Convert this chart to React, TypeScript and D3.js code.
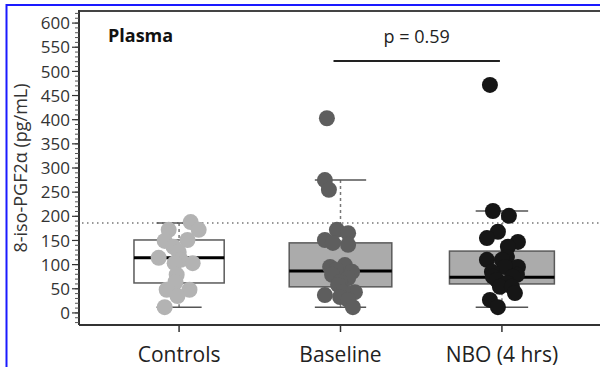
import React, { useEffect, useRef } from "react";
import * as d3 from "d3";

// groups on the x axis
const groups = ["Controls", "Baseline", "NBO (4 hrs)"];

// box plot summaries (pg/mL)
const q1 = [62, 54, 60];
const medians = [114, 87, 74];
const q3 = [151, 145, 128];
const whiskerLow = [12, 12, 12];
const whiskerHigh = [186, 275, 211];

// individual points per group; jitter is a unitless -1..1 spread
const controls = [188, 172, 172, 151, 149, 137, 126, 114, 110, 103, 103, 79, 64, 48, 48, 35, 12];
const controlsJitter = [0.58, 0.98, -0.52, 0.42, -0.72, -0.28, -0.02, -1.02, 0.08, 0.68, -0.22, -0.12, -0.18, -0.62, 0.52, -0.08, -0.72];

const baseline = [403, 275, 255, 172, 165, 151, 145, 141, 99, 95, 89, 85, 79, 72, 64, 58, 43, 43, 37, 33, 27, 12];
const baselineJitter = [-0.68, -0.78, -0.58, -0.18, 0.38, -0.78, -0.38, 0.38, 0.22, -0.52, -0.22, 0.58, -0.42, 0.38, -0.02, -0.12, 0.72, 0.12, -0.78, -0.02, 0.38, 0.62];

const nbo = [472, 211, 201, 168, 155, 147, 137, 116, 110, 110, 95, 95, 85, 79, 75, 75, 68, 62, 54, 54, 41, 27, 12];
const nboJitter = [-0.6, -0.45, 0.35, -0.2, -0.75, 0.8, 0.3, 0.25, -0.75, 0, 0.8, 0.15, -0.5, 0.75, 0.55, -0.45, -0.25, 0.25, -0.1, 0.5, 0.65, -0.6, -0.2];

const pointSets = [controls, baseline, nbo];
const jitterSets = [controlsJitter, baselineJitter, nboJitter];

const yTicks = [0, 50, 100, 150, 200, 250, 300, 350, 400, 450, 500, 550, 600];
const refLine = 186;
const pValue = "p = 0.59";

const pointColors = ["#b3b3b3", "#5e5e5e", "#161616"];
const boxFills = ["#ffffff", "#ababab", "#ababab"];

const App = () => {
  const svgRef = useRef(null);

  useEffect(() => {
    const svg = d3.select(svgRef.current);
    svg.selectAll("*").remove();

    const left = 79;
    const right = 600;
    const top = 11;
    const bottom = 325;
    const font = "'Open Sans', 'Noto Sans', sans-serif";

    const x = d3.scalePoint().domain(groups).range([left, 602]).padding(0.62);
    const y = d3.scaleLinear().domain([-25, 625]).range([bottom, top]);
    const step = x.step();

    const nMax = d3.max(pointSets, (s) => s.length);
    const boxW = pointSets.map((s) => 0.65 * step * Math.sqrt(s.length / nMax));
    const jit = d3.scaleLinear().domain([-1, 1]).range([-20, 20]);

    svg.append("rect").attr("width", 600).attr("height", 367).attr("fill", "#fff");

    // page frame (blue)
    svg.append("line").attr("x1", 6).attr("x2", 600).attr("y1", 5).attr("y2", 5)
      .attr("stroke", "#1a1aff").attr("stroke-width", 2);
    svg.append("line").attr("x1", 6.5).attr("x2", 6.5).attr("y1", 4).attr("y2", 367)
      .attr("stroke", "#1a1aff").attr("stroke-width", 2);

    // reference line
    svg.append("line")
      .attr("x1", left + 3).attr("x2", right)
      .attr("y1", y(refLine)).attr("y2", y(refLine))
      .attr("stroke", "#777").attr("stroke-width", 1.5)
      .attr("stroke-dasharray", "1.5,3.5");

    // boxes
    groups.forEach((g, i) => {
      const cx = x(g);
      const w = boxW[i];
      const b = svg.append("g");
      b.append("rect")
        .attr("x", cx - w / 2).attr("width", w)
        .attr("y", y(q3[i])).attr("height", y(q1[i]) - y(q3[i]))
        .attr("fill", boxFills[i]).attr("stroke", "#5a5a5a").attr("stroke-width", 1.5);
      b.append("line")
        .attr("x1", cx - w / 2).attr("x2", cx + w / 2)
        .attr("y1", y(medians[i])).attr("y2", y(medians[i]))
        .attr("stroke", "#000").attr("stroke-width", 3);
      // whiskers
      [[whiskerHigh[i], q3[i]], [whiskerLow[i], q1[i]]].forEach(([end, edge]) => {
        b.append("line")
          .attr("x1", cx).attr("x2", cx)
          .attr("y1", y(end)).attr("y2", y(edge))
          .attr("stroke", "#777").attr("stroke-width", 1.5)
          .attr("stroke-dasharray", "3,3");
        b.append("line")
          .attr("x1", cx - w / 4).attr("x2", cx + w / 4)
          .attr("y1", y(end)).attr("y2", y(end))
          .attr("stroke", "#555").attr("stroke-width", 1.5);
      });
    });

    // points
    groups.forEach((g, i) => {
      svg.append("g")
        .selectAll("circle")
        .data(pointSets[i].map((v, k) => ({ v, j: jitterSets[i][k] })))
        .enter()
        .append("circle")
        .attr("cx", (d) => x(g) + jit(d.j))
        .attr("cy", (d) => y(d.v))
        .attr("r", 8)
        .attr("fill", pointColors[i]);
    });

    // frame top
    svg.append("line").attr("x1", left).attr("x2", right).attr("y1", top).attr("y2", top)
      .attr("stroke", "#444").attr("stroke-width", 2);

    // y axis with minor ticks
    const yAxis = svg.append("g");
    yAxis.append("line").attr("x1", left).attr("x2", left).attr("y1", top - 1).attr("y2", bottom)
      .attr("stroke", "#333").attr("stroke-width", 2);
    yAxis.selectAll(".minor")
      .data(d3.range(-20, 621, 10))
      .enter().append("line")
      .attr("x1", left - 4).attr("x2", left)
      .attr("y1", (d) => y(d)).attr("y2", (d) => y(d))
      .attr("stroke", "#555").attr("stroke-width", 1);
    yAxis.selectAll(".major")
      .data(yTicks)
      .enter().append("line")
      .attr("x1", left - 7).attr("x2", left)
      .attr("y1", (d) => y(d)).attr("y2", (d) => y(d))
      .attr("stroke", "#333").attr("stroke-width", 1.2);
    yAxis.selectAll("text")
      .data(yTicks)
      .enter().append("text")
      .attr("x", left - 9).attr("y", (d) => y(d))
      .attr("dy", "0.36em")
      .attr("text-anchor", "end")
      .style("font-family", font).style("font-size", "17px").style("fill", "#333")
      .text((d) => d);

    svg.append("text")
      .attr("transform", `translate(27, 168) rotate(-90)`)
      .attr("text-anchor", "middle")
      .style("font-family", font).style("font-size", "18px").style("fill", "#333")
      .text("8-iso-PGF2α (pg/mL)");

    // x axis
    svg.append("line").attr("x1", left).attr("x2", right).attr("y1", bottom).attr("y2", bottom)
      .attr("stroke", "#333").attr("stroke-width", 2);
    const xAxis = svg.append("g");
    xAxis.selectAll("line")
      .data(groups)
      .enter().append("line")
      .attr("x1", (d) => x(d)).attr("x2", (d) => x(d))
      .attr("y1", bottom).attr("y2", bottom + 7)
      .attr("stroke", "#333").attr("stroke-width", 1.5);
    xAxis.selectAll("text")
      .data(groups)
      .enter().append("text")
      .attr("x", (d) => x(d)).attr("y", 362)
      .attr("text-anchor", "middle")
      .style("font-family", font).style("font-size", "21px").style("fill", "#222")
      .text((d) => d);

    // title and comparison bracket
    svg.append("text")
      .attr("x", 108).attr("y", 42)
      .style("font-family", font).style("font-size", "18px").style("font-weight", "700")
      .style("fill", "#111")
      .text("Plasma");

    const xb1 = x(groups[1]) - 7;
    const xb2 = x(groups[2]) - 2;
    svg.append("line").attr("x1", xb1).attr("x2", xb2).attr("y1", 61).attr("y2", 61)
      .attr("stroke", "#222").attr("stroke-width", 2);
    svg.append("text")
      .attr("x", (xb1 + xb2) / 2).attr("y", 43)
      .attr("text-anchor", "middle")
      .style("font-family", font).style("font-size", "18px").style("fill", "#222")
      .text(pValue);
  }, []);

  return (
    <svg
      ref={svgRef}
      width={600}
      height={367}
      style={{ position: "absolute", left: 0, top: 0, display: "block" }}
    ></svg>
  );
};

export default App;
